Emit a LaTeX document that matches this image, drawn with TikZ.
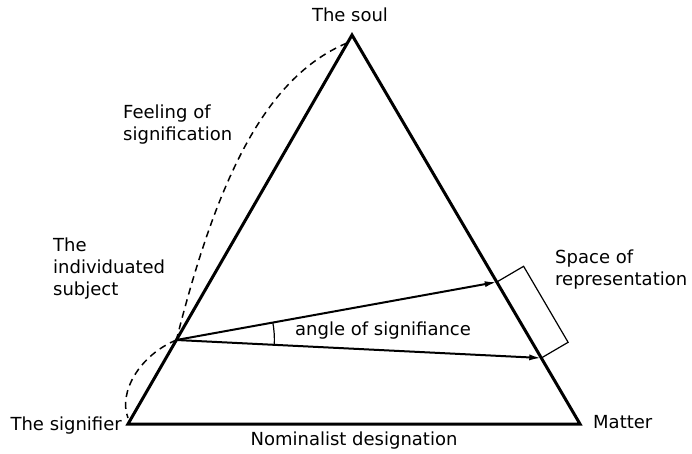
\documentclass[tikz,border=0pt]{standalone}
\usepackage{fontspec}
\setmainfont{DejaVu Sans}
\usetikzlibrary{arrows.meta}
\begin{document}
\begin{tikzpicture}[x=1pt,y=-1pt,
  edge/.style={line width=3pt,line join=miter},
  ray/.style={line width=2pt,-{Latex[length=12pt,width=6pt]}},
  dashcurve/.style={line width=1.5pt,dash pattern=on 7pt off 5pt},
  lbl/.style={font=\fontsize{18}{22}\selectfont,inner sep=0pt,align=left}]
\useasboundingbox (0,0) rectangle (692,454);
\coordinate (soul) at (352,35);
\coordinate (sig) at (128,424);
\coordinate (mat) at (580,424);
\coordinate (subj) at (176.4,340);
\coordinate (up) at (496.8,282);
\coordinate (lo) at (541.3,358);
\coordinate (upo) at (523.6,266.3);
\coordinate (loo) at (568.1,342.3);
\draw[edge] (sig) -- (soul) -- (mat) -- cycle;
\draw[ray] (subj) -- (up);
\draw[ray] (subj) -- (lo);
\draw[line width=1.2pt] (up) -- (upo) -- (loo) -- (lo);
\draw[line width=1.2pt] ([shift={(-10.3:98)}]subj) arc[start angle=-10.3,end angle=2.8,radius=98];
\draw[dashcurve] (347,43) .. controls (264.5,77.5) and (216.5,181) .. (subj);
\draw[dashcurve] (subj) .. controls (140,355) and (118,392) .. (128,418);
\node[lbl,anchor=base] (tsoul) at (350,22) {The soul};
\node[lbl,anchor=base west] (tfeel) at (123,141) {Feeling of\\signification};
\node[lbl,anchor=base west] (tsubj) at (53,295) {The\\individuated\\subject};
\node[lbl,anchor=base west] (tangle) at (295,335) {angle of signifiance};
\node[lbl,anchor=base west] (tspace) at (555,285) {Space of\\representation};
\node[lbl,anchor=base east] (tsig) at (122,430) {The signifier};
\node[lbl,anchor=base west] (tmat) at (593,428) {Matter};
\node[lbl,anchor=base] (tnom) at (354,445) {Nominalist designation};
\end{tikzpicture}
\end{document}
